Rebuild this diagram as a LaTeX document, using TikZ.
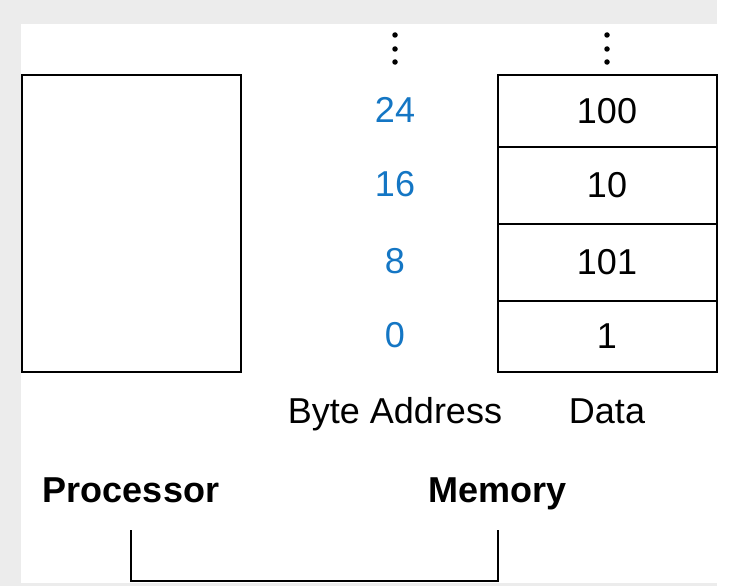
\documentclass[tikz,border=0pt]{standalone}
\usepackage{fontspec}
\setmainfont{Liberation Sans}
\definecolor{framegray}{HTML}{ECECEC}
\definecolor{addrblue}{RGB}{20,118,196}
\begin{document}
\begin{tikzpicture}[x=1pt,y=-1pt,
  box/.style={draw=black,line width=2pt,inner sep=0pt,outer sep=0pt,minimum width=219pt},
  cell/.style={box,font=\fontsize{36}{40}\selectfont},
  addr/.style={text=addrblue,font=\fontsize{36}{40}\selectfont,inner sep=0pt},
  caption/.style={font=\fontsize{36}{40}\selectfont,inner sep=0pt,anchor=base},
  title/.style={font=\fontsize{36}{40}\selectfont\bfseries,inner sep=0pt,anchor=base},
  vdot/.style={circle,fill=black,inner sep=0pt,minimum size=5.5pt},
  bus/.style={draw=black,line width=1.8pt}]
\useasboundingbox (0,0) rectangle (730,586);
\fill[white] (0,0) rectangle (730,586);
\fill[framegray] (0,0) rectangle (717,586);
\fill[white] (21,24) rectangle (730,583);

% processor
\node[box,minimum height=297pt] (proc) at (131.5,223.5) {};

% memory cells
\node[cell,minimum height=72pt] (m24) at (607,111) {100};
\node[cell,minimum height=77pt] (m16) at (607,185.5) {10};
\node[cell,minimum height=77pt] (m8) at (607,262.5) {101};
\node[cell,minimum height=71pt] (m0) at (607,336.5) {1};

% addresses
\node[addr] (a24) at (395,110) {24};
\node[addr] (a16) at (395,184) {16};
\node[addr] (a8) at (395,261) {8};
\node[addr] (a0) at (395,335) {0};

% vertical ellipses
\foreach \x/\n in {395/a,607/d}{
  \node[vdot] (\n1) at (\x,35) {};
  \node[vdot] (\n2) at (\x,49) {};
  \node[vdot] (\n3) at (\x,62) {};
}

% captions
\node[caption] (ba) at (395,423) {Byte Address};
\node[caption] (dt) at (607,423) {Data};
\node[title] (pl) at (131,502) {Processor};
\node[title] (ml) at (498,502) {Memory};

% bus
\coordinate (pb) at (131,530);
\coordinate (mb) at (498,530);
\draw[bus] (pb) -- ++(0,51) -| (mb);
\end{tikzpicture}
\end{document}
